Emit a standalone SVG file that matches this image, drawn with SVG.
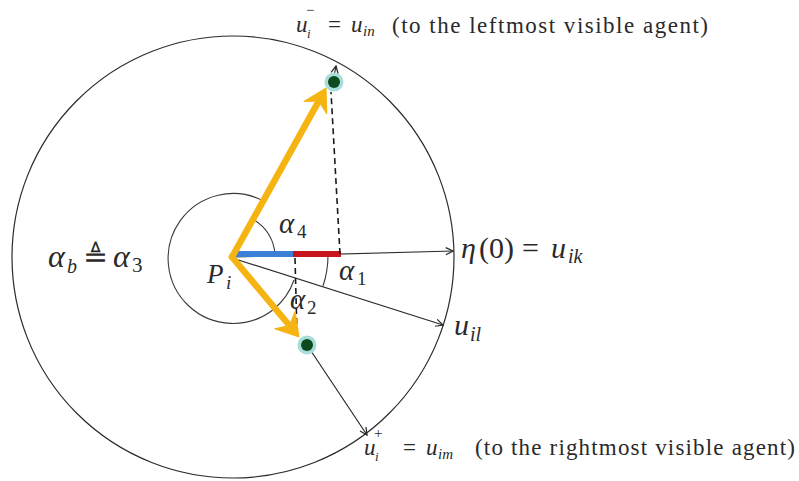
<svg xmlns="http://www.w3.org/2000/svg" width="799" height="481" viewBox="0 0 799 481">
<defs>
<style>
.ln{fill:none;stroke:#2b2b2b;stroke-width:1.2}
.arc{fill:none;stroke:#3a3a3a;stroke-width:1.1}
.dash{fill:none;stroke:#1a1a1a;stroke-width:1.6;stroke-dasharray:6 4}
.yel{fill:none;stroke:#f5b412;stroke-width:6.5;stroke-linecap:round}
.yh{fill:#f5b412;stroke:#f5b412;stroke-width:1;stroke-linejoin:round}
.t{font-family:"Liberation Serif","DejaVu Serif",serif;fill:#2a2a2a}
.i{font-style:italic}
.halo{fill:#a9ddd9}
.dot{fill:#0d4a1e}
</style>
<marker id="ah" viewBox="0 0 10 10" refX="9" refY="5" markerWidth="9" markerHeight="9" markerUnits="userSpaceOnUse" orient="auto">
<path d="M1,1 L9,5 L1,9" fill="none" stroke="#2b2b2b" stroke-width="1.4"/>
</marker>
</defs>
<rect width="799" height="481" fill="#ffffff"/>

<g id="sensing-circle">
<circle cx="233" cy="257" r="221" class="ln"/>
</g>

<g id="connectors">
<line x1="232" y1="257" x2="453" y2="251" class="ln" marker-end="url(#ah)"/>
<line x1="232" y1="258" x2="443" y2="325" class="ln" marker-end="url(#ah)"/>
<line x1="307" y1="345" x2="367" y2="435" class="ln" stroke-width="2" marker-end="url(#ah)"/>
<line x1="334" y1="76" x2="336" y2="66" class="ln" marker-end="url(#ah)"/>
<path d="M263.5,201 A65,65 0 1 0 274,309" class="arc"/>
<path d="M253.5,219.5 A43,43 0 0 1 275,255" class="arc"/>
<path d="M328,255 A96,96 0 0 1 323,286" class="arc"/>
<path d="M294,280 A66,66 0 0 1 274,309" class="arc"/>
<line x1="232" y1="254" x2="293" y2="254" stroke="#3c7fd6" stroke-width="6"/>
<line x1="293" y1="254" x2="341" y2="254" stroke="#c8141c" stroke-width="6"/>
<line x1="340" y1="254" x2="331" y2="92" class="dash"/>
<line x1="295" y1="258" x2="297" y2="334" class="dash"/>
<line x1="232" y1="257" x2="318.7" y2="101.1" class="yel"/>
<polygon points="326,88 326.8,114 318.7,101.1 303.8,101.4" class="yh"/>
<line x1="232" y1="257" x2="289.4" y2="325.5" class="yel"/>
<polygon points="299,337 274.7,328.8 289.4,325.5 295.1,311.4" class="yh"/>
</g>

<g id="agent-left">
<circle cx="334" cy="82" r="9.5" class="halo"/>
<circle cx="334" cy="82" r="6" class="dot"/>
</g>
<g id="agent-right">
<circle cx="307" cy="345" r="9.5" class="halo"/>
<circle cx="307" cy="345" r="6" class="dot"/>
</g>

<g id="labels">
<text class="t" font-size="23"><tspan class="i" x="296" y="32">u</tspan><tspan class="i" font-size="13" x="307" y="38">i</tspan><tspan font-size="15" x="306" y="15">−</tspan><tspan x="328" y="32">=</tspan><tspan class="i" x="351" y="32">u</tspan><tspan class="i" font-size="15" x="363" y="36">in</tspan></text>
<text class="t" x="392" y="33" font-size="23" textLength="316" lengthAdjust="spacing">(to the leftmost visible agent)</text>

<text class="t" font-size="23"><tspan class="i" x="364" y="455">u</tspan><tspan class="i" font-size="13" x="375" y="461">i</tspan><tspan font-size="15" x="374" y="438">+</tspan><tspan x="403" y="455">=</tspan><tspan class="i" x="426" y="455">u</tspan><tspan class="i" font-size="15" x="438" y="459">im</tspan></text>
<text class="t" x="475" y="455" font-size="23" textLength="320" lengthAdjust="spacing">(to the rightmost visible agent)</text>

<text class="t" font-size="30"><tspan class="i" x="461" y="258">η</tspan><tspan x="479" y="258">(0)</tspan><tspan x="522" y="258">=</tspan><tspan class="i" x="551" y="258">u</tspan><tspan class="i" font-size="20" x="568" y="263">ik</tspan></text>
<text class="t" font-size="30"><tspan class="i" x="454" y="335">u</tspan><tspan class="i" font-size="20" x="470" y="341">il</tspan></text>
<text class="t" font-size="32"><tspan class="i" x="48" y="267">α</tspan><tspan class="i" font-size="20" x="67" y="273">b</tspan><tspan font-size="30" x="83" y="267">≜</tspan><tspan class="i" x="113" y="267">α</tspan><tspan font-size="21" x="132" y="272">3</tspan></text>
<text class="t" font-size="27"><tspan class="i" x="207" y="283">P</tspan><tspan class="i" font-size="19" x="226" y="289">i</tspan></text>
<text class="t" font-size="29"><tspan class="i" x="279" y="233">α</tspan><tspan font-size="19" x="297" y="238">4</tspan></text>
<text class="t" font-size="29"><tspan class="i" x="339" y="280">α</tspan><tspan font-size="19" x="357" y="285">1</tspan></text>
<text class="t" font-size="29"><tspan class="i" x="290" y="309">α</tspan><tspan font-size="19" x="307" y="314">2</tspan></text>
</g>
</svg>
